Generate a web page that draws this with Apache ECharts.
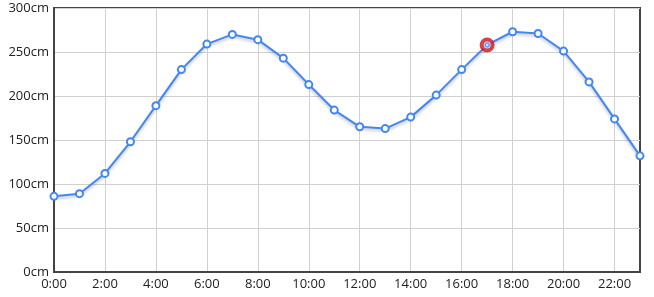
<!DOCTYPE html>
<html>
<head>
<meta charset="utf-8">
<script src="https://cdn.jsdelivr.net/npm/echarts@6/dist/echarts.min.js"></script>
<style>html,body{margin:0;padding:0;background:#fff}#c{width:654px;height:297px}</style>
</head>
<body>
<div id="c"></div>
<script>
var hours = ['0:00','1:00','2:00','3:00','4:00','5:00','6:00','7:00','8:00','9:00','10:00','11:00','12:00','13:00','14:00','15:00','16:00','17:00','18:00','19:00','20:00','21:00','22:00','23:00'];
var levels = [86, 89, 112, 148, 189, 230, 259, 270, 264, 243, 213, 184, 165, 163, 176, 201, 230, 258, 273, 271, 251, 216, 174, 132];
var highlightIndex = 17;
var yTicks = { min: 0, max: 300, interval: 50, unit: 'cm' };

var chart = echarts.init(document.getElementById('c'), null, { renderer: 'canvas' });
var font = '"Open Sans", "DejaVu Sans", sans-serif';
chart.setOption({
  animation: false,
  grid: { left: 54, right: 14, top: 8, bottom: 25, show: true, borderColor: '#444', borderWidth: 2, backgroundColor: 'transparent' },
  xAxis: {
    type: 'category', data: hours, boundaryGap: false,
    axisLine: { lineStyle: { color: '#444', width: 2 } },
    axisTick: { show: false },
    axisLabel: { interval: 1, color: '#222', fontSize: 13, fontFamily: font, margin: 6 },
    splitLine: { show: true, interval: 1, lineStyle: { color: '#d0d0d0', width: 1 } }
  },
  yAxis: {
    type: 'value', min: yTicks.min, max: yTicks.max, interval: yTicks.interval,
    axisLine: { show: true, lineStyle: { color: '#444', width: 2 } },
    axisTick: { show: false },
    axisLabel: { color: '#222', fontSize: 13, fontFamily: font, margin: 5, formatter: function (v) { return v + yTicks.unit; } },
    splitLine: { show: true, lineStyle: { color: '#d0d0d0', width: 1 } }
  },
  series: [{
    type: 'line', data: levels, z: 3,
    symbol: 'circle', symbolSize: 7,
    lineStyle: { color: '#4287f5', width: 2, shadowColor: 'rgba(0,0,0,0.25)', shadowBlur: 3, shadowOffsetY: 2 },
    itemStyle: { color: '#fff', borderColor: '#4287f5', borderWidth: 2 }
  }, {
    type: 'scatter', z: 4,
    data: [[highlightIndex, levels[highlightIndex]]],
    symbol: 'circle', symbolSize: 11,
    itemStyle: { color: '#ffffff', borderColor: '#d0121c', borderWidth: 4 }
  }, {
    type: 'scatter', z: 5,
    data: [[highlightIndex, levels[highlightIndex]]],
    symbol: 'circle', symbolSize: 4,
    itemStyle: { color: '#cfe0fb', borderColor: '#4287f5', borderWidth: 1.5 }
  }]
});
</script>
</body>
</html>
